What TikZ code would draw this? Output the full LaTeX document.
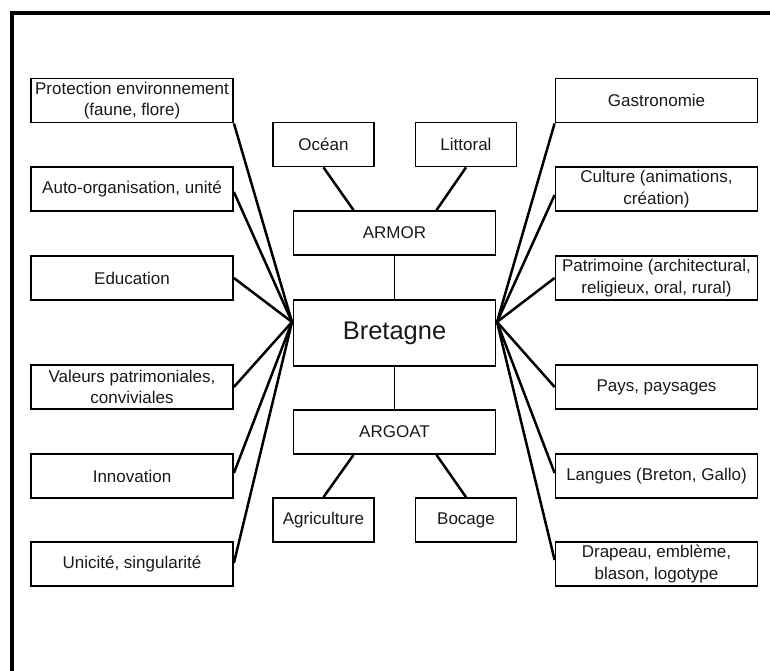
\documentclass[tikz,border=0pt]{standalone}
\usepackage{fontspec}
\setmainfont{Liberation Sans}
\begin{document}
\begin{tikzpicture}[x=1pt,y=-1pt,
  box/.style={draw, line width=1.8pt, inner sep=0pt, align=center,
    font=\fontsize{17}{21.5}\selectfont, text=black!90},
  wide/.style={box, minimum width=202pt, minimum height=44pt},
  small/.style={box, minimum width=101pt, minimum height=44pt},
  conn/.style={line width=2.5pt},
  thin/.style={line width=1.3pt}]
\useasboundingbox (0,0) rectangle (770,671);
% frame
\draw[line width=4pt] (10,13) -- (770,13);
\draw[line width=4pt] (11.5,11) -- (11.5,671);
% left column
\node[wide] (prot) at (132,100.5) {Protection environnement\\(faune, flore)};
\node[wide] (auto) at (132,189) {Auto-organisation, unité};
\node[wide] (edu) at (132,278) {Education};
\node[wide] (val) at (132,387) {Valeurs patrimoniales,\\conviviales};
\node[wide] (inno) at (132,476) {Innovation};
\node[wide] (uni) at (132,564) {Unicité, singularité};
% right column
\node[wide] (gast) at (656.5,100.5) {Gastronomie};
\node[wide] (cult) at (656.5,189) {Culture (animations,\\création)};
\node[wide] (patr) at (656.5,278) {Patrimoine (architectural,\\religieux, oral, rural)};
\node[wide] (pays) at (656.5,387) {Pays, paysages};
\node[wide] (lang) at (656.5,476) {Langues (Breton, Gallo)};
\node[wide] (drap) at (656.5,564) {Drapeau, emblème,\\blason, logotype};
% centre
\node[small] (ocean) at (323.5,144.5) {Océan};
\node[small] (litt) at (466,144.5) {Littoral};
\node[wide] (armor) at (394.5,233) {ARMOR};
\node[box, minimum width=202pt, minimum height=66pt, font=\fontsize{25.5}{30}\selectfont] (bret) at (394.5,333) {Bretagne};
\node[wide] (argoat) at (394.5,432) {ARGOAT};
\node[small] (agri) at (323.5,520) {Agriculture};
\node[small] (boc) at (466,520) {Bocage};
% hubs
\coordinate (hubL) at (292,322);
\coordinate (hubR) at (497,322);
% vertical links
\draw[thin] (armor.south) -- (bret.north);
\draw[thin] (bret.south) -- (argoat.north);
% top/bottom links
\draw[conn] (ocean.south) -- ([xshift=-41pt]armor.north);
\draw[conn] (litt.south) -- ([xshift=42pt]armor.north);
\draw[conn] (agri.north) -- ([xshift=-41pt]argoat.south);
\draw[conn] (boc.north) -- ([xshift=42pt]argoat.south);
% left links
\draw[conn] (prot.south east) -- (hubL);
\draw[conn] ([yshift=-3pt]auto.east) -- (hubL);
\draw[conn] (edu.east) -- (hubL);
\draw[conn] (val.east) -- (hubL);
\draw[conn] ([yshift=3pt]inno.east) -- (hubL);
\draw[conn] ([yshift=1pt]uni.east) -- (hubL);
% right links
\draw[conn] (gast.south west) -- (hubR);
\draw[conn] ([yshift=-6pt]cult.east -| cult.west) -- (hubR);
\draw[conn] (patr.west) -- (hubR);
\draw[conn] (pays.west) -- (hubR);
\draw[conn] ([yshift=3pt]lang.west) -- (hubR);
\draw[conn] ([yshift=4pt]drap.west) -- (hubR);
\end{tikzpicture}
\end{document}
